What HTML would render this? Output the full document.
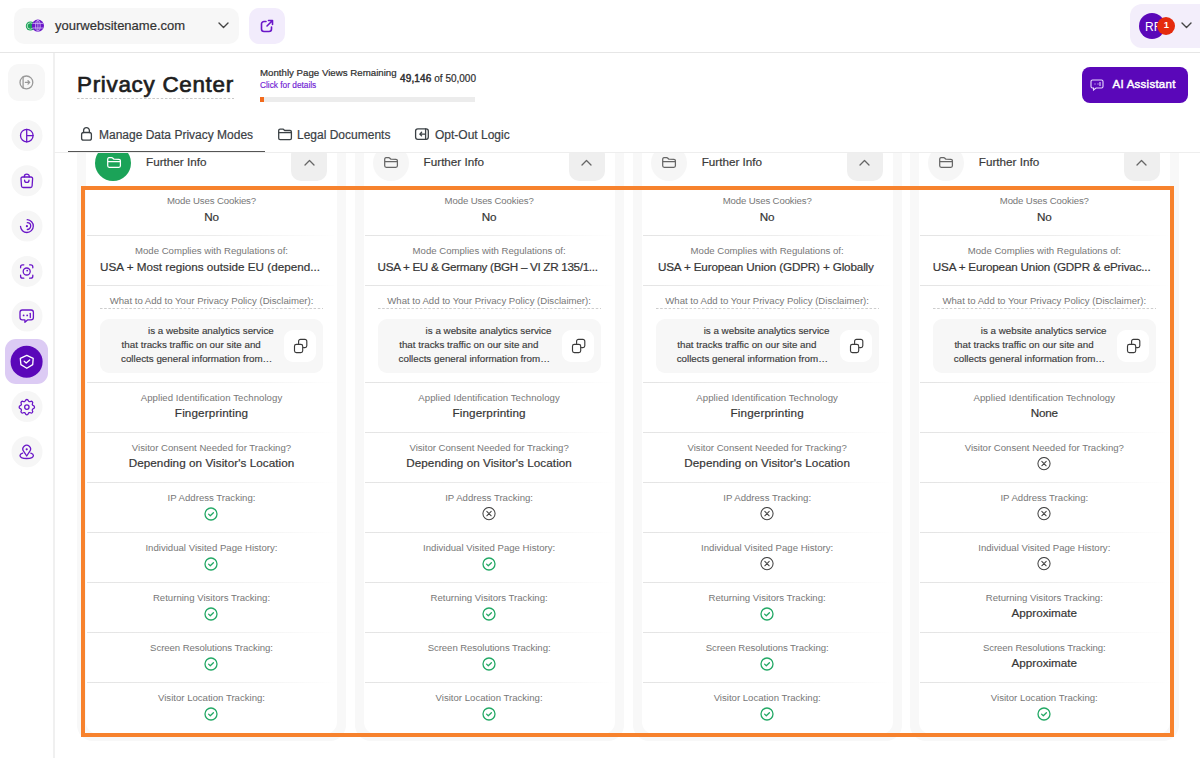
<!DOCTYPE html>
<html><head><meta charset="utf-8">
<style>
*{box-sizing:border-box;margin:0;padding:0}
html,body{width:1200px;height:758px;overflow:hidden;background:#fff;font-family:"Liberation Sans",sans-serif;color:#333}
.abs{position:absolute}
#hdr{position:absolute;left:0;top:0;width:1200px;height:53px;border-bottom:1px solid #e6e6e6;background:#fff}
#site{position:absolute;left:14px;top:8px;width:225px;height:36px;background:#f7f7f7;border-radius:10px}
#site .t{position:absolute;left:41px;top:10px;font-size:13px;color:#333;letter-spacing:0px;white-space:nowrap;-webkit-text-stroke:0.2px #333}
#ext{position:absolute;left:249px;top:8px;width:36px;height:36px;background:#f2ecfc;border-radius:10px}
#user{position:absolute;left:1130px;top:4px;width:90px;height:44px;background:#f3eefb;border-radius:12px}
#side{position:absolute;left:0;top:53px;width:55px;height:705px;border-right:2px solid #f0f0f0;background:#fff}
.sb{position:absolute;left:12px;width:30px;height:30px;border-radius:50%;background:#f6f6f6}
.sb svg{position:absolute;left:8px;top:8px}
#main{position:absolute;left:54px;top:53px;width:1146px;height:705px}
#title{position:absolute;left:77px;top:71.5px;font-size:22.4px;font-weight:normal;-webkit-text-stroke:0.7px #1e1e1e;color:#1e1e1e;white-space:nowrap;letter-spacing:0.72px}
#title:after{content:"";position:absolute;left:0;right:0;top:26.5px;height:1px;background:linear-gradient(90deg,#c9c9c9 55%,rgba(255,255,255,0) 55%) 0 0/4.2px 1px repeat-x}
#pv1{position:absolute;left:260px;top:67px;font-size:9.7px;color:#2e2e2e;white-space:nowrap;-webkit-text-stroke:0.2px #2e2e2e}
#pv2{position:absolute;left:260px;top:80px;font-size:8.3px;color:#7022d4;white-space:nowrap;-webkit-text-stroke:0.15px #7022d4}
#pv3{position:absolute;left:400px;top:73px;font-size:10px;color:#2e2e2e;white-space:nowrap;-webkit-text-stroke:0.2px #2e2e2e}
#pv3 b{font-weight:normal;-webkit-text-stroke:0.45px #2e2e2e;letter-spacing:0.15px}
#bar{position:absolute;left:260px;top:97px;width:215px;height:5px;background:#ececec}
#bar i{position:absolute;left:0;top:0;width:4px;height:5px;background:#f26b1d}
#ai{position:absolute;left:1082px;top:67px;width:106px;height:36px;background:#5a07b9;border-radius:8px;color:#fff}
#ai .t{position:absolute;left:30.5px;top:11px;font-size:11.5px;font-weight:normal;-webkit-text-stroke:0.45px #fff;letter-spacing:0.25px;white-space:nowrap}
.tab{position:absolute;top:127.5px;font-size:12px;color:#3b4145;white-space:nowrap;-webkit-text-stroke:0.2px #3b4145}
#tabline{position:absolute;left:68px;top:151px;width:197px;height:1px;background:#555}
#content{position:absolute;left:54px;top:152px;width:1146px;height:606px;overflow:hidden;border-top:1px solid #eeeeee}
.col{position:absolute;top:-20px;width:269px;height:608px;background:#f8f8f8;border-radius:0 0 16px 16px}
.card{position:absolute;left:9px;top:0;width:251px;height:601px;background:#fff;border-radius:0 0 12px 12px}
.hc{position:absolute;left:9px;top:12px;width:36px;height:36px;border-radius:50%;background:#f6f6f6}
.hc.g{background:#1ba358}
.fi{position:absolute;left:11.5px;top:12px;line-height:0}
.ht{position:absolute;left:60px;top:22px;font-size:11.7px;color:#3a3a3a;white-space:nowrap;-webkit-text-stroke:0.2px #3a3a3a}
.hb{position:absolute;left:205px;top:12px;width:36px;height:36px;border-radius:10px;background:#efefef}
.cu{position:absolute;left:12.5px;top:13.5px;line-height:0}
.row{position:absolute;left:0;width:251px;height:50px;text-align:center}
.row:after{content:"";position:absolute;left:1px;right:0;bottom:0;height:1.5px;background:linear-gradient(90deg,#e4e4e4,#ececec 50%,rgba(255,255,255,0))}
.row.last:after{display:none}
.lb{position:absolute;left:0;right:0;top:9px;font-size:9.6px;color:#777;white-space:nowrap}
.vl{position:absolute;left:0;right:0;top:23px;font-size:11.7px;color:#363636;white-space:nowrap;-webkit-text-stroke:0.2px #363636}
.vl.tr{left:14px;right:auto;text-align:left}
.ic{position:absolute;left:118px;top:24px;line-height:0}
.dl{position:absolute;left:14px;right:14px;top:9px;font-size:9.6px;color:#777;white-space:nowrap;padding-bottom:2px}
.dl:after{content:"";position:absolute;left:0;right:0;bottom:-1px;height:1px;background:linear-gradient(90deg,#cdcdcd 55%,rgba(255,255,255,0) 55%) 0 0/4.2px 1px repeat-x}
.db{position:absolute;left:14px;top:33px;width:223px;height:54px;border-radius:9px;background:#f7f7f7}
.dt{position:absolute;font-size:9.8px;line-height:14px;color:#3a3a3a;white-space:nowrap;-webkit-text-stroke:0.15px #3a3a3a}
.brand{display:inline-block;width:34px}
.cp{position:absolute;left:184px;top:11px;width:32px;height:32px;border-radius:9px;background:#fff}
.cp svg{position:absolute;left:0;top:0}
#orange{position:absolute;left:81px;top:186px;width:1093px;height:551px;border:4px solid #f7822d}
</style></head><body>
<div id="hdr">
  <div id="site">
    <svg class="abs" style="left:10px;top:10px" width="22" height="16" viewBox="0 0 22 16">
      <circle cx="6.4" cy="8" r="4.6" fill="#1ba358"/>
      <circle cx="6.4" cy="8" r="3.2" fill="none" stroke="#d5efdf" stroke-width="0.8"/>
      <circle cx="13.9" cy="7.7" r="6.1" fill="#6a16c8"/>
      <g stroke="#d9c7f7" stroke-width="0.75" fill="none">
        <ellipse cx="13.9" cy="7.7" rx="2.3" ry="5.3"/>
        <path d="M13.9 2.4v10.6M8.6 5.4h10.6M8.6 10h10.6"/>
      </g>
    </svg>
    <div class="t">yourwebsitename.com</div>
    <svg class="abs" style="left:204px;top:14px" width="11" height="7" viewBox="0 0 11 7"><path d="M1 1l4.5 4.5L10 1" stroke="#444" stroke-width="1.4" fill="none" stroke-linecap="round" stroke-linejoin="round"/></svg>
  </div>
  <div id="ext">
    <svg class="abs" style="left:11px;top:11px" width="14" height="14" viewBox="0 0 14 14"><path d="M6 2.5H4A2.5 2.5 0 0 0 1.5 5v5A2.5 2.5 0 0 0 4 12.5h5a2.5 2.5 0 0 0 2.5-2.5V8M7 7l5-5M8.5 1.5H12.5V5.5" stroke="#6a16c8" stroke-width="1.6" fill="none" stroke-linecap="round" stroke-linejoin="round"/></svg>
  </div>
  <div id="user">
    <div class="abs" style="left:9px;top:9px;width:26px;height:26px;border-radius:50%;background:#5a07b9"></div>
    <div class="abs" style="left:15px;top:16px;font-size:12px;color:#fff">RF</div>
    <div class="abs" style="left:27px;top:13px;width:18px;height:18px;border-radius:50%;background:#e52a0d"></div>
    <div class="abs" style="left:27.5px;top:12px;width:18px;height:18px;line-height:18px;text-align:center;font-size:9.5px;font-weight:bold;color:#fff">1</div>
    <svg class="abs" style="left:51px;top:18px" width="11" height="7" viewBox="0 0 11 7"><path d="M1 1l4.5 4.5L10 1" stroke="#444" stroke-width="1.4" fill="none" stroke-linecap="round" stroke-linejoin="round"/></svg>
  </div>
</div>
<div id="side"></div>
<svg class="abs" style="left:0;top:0" width="54" height="758" viewBox="0 0 54 758">
  <rect x="8" y="64" width="37" height="37" rx="11" fill="#f7f7f7"/>
  <g fill="none" stroke="#9a9a9a" stroke-width="1.3" stroke-linecap="round" stroke-linejoin="round">
    <circle cx="26.4" cy="82.4" r="6.4"/>
    <path d="M23.1 76.6v11.6M25.4 82.4h4.3M28 80.7l1.7 1.7-1.7 1.7"/>
  </g>
  <g fill="#f6f6f6">
    <circle cx="27" cy="135.5" r="15.5"/>
    <circle cx="27" cy="180.7" r="15.5"/>
    <circle cx="27" cy="226" r="15.5"/>
    <circle cx="27" cy="271.4" r="15.5"/>
    <circle cx="27" cy="316" r="15.5"/>
    <circle cx="27" cy="406.6" r="15.5"/>
    <circle cx="27" cy="451.8" r="15.5"/>
  </g>
  <rect x="5" y="339" width="43" height="45" rx="11" fill="#dccbf4"/>
  <circle cx="26.6" cy="361.7" r="16" fill="#5a07b9"/>
  <g fill="none" stroke="#6a16c8" stroke-width="1.3" stroke-linecap="round" stroke-linejoin="round">
    <circle cx="26.8" cy="135.6" r="6.3"/>
    <path d="M26.7 129.3v12.6M26.7 135.6h6.3"/>
    <path d="M22.6 177h8.4a1.6 1.6 0 0 1 1.6 1.7l-.5 7.3a1.6 1.6 0 0 1-1.6 1.5h-7.4a1.6 1.6 0 0 1-1.6-1.5l-.5-7.3a1.6 1.6 0 0 1 1.6-1.7z"/>
    <path d="M24.3 176.9v-.3a2.5 2.5 0 0 1 5 0v.3M24.6 180.2a2.2 2.2 0 0 0 4.4 0"/>
    <path d="M27.2 219.7a6.4 6.4 0 1 1-6.7 6.6"/>
    <path d="M27.3 222.7a3.4 3.4 0 0 1 0 6.8"/>
    <path d="M20.6 267.8v-1a2 2 0 0 1 2-2h1.2M29.6 264.8h1.2a2 2 0 0 1 2 2v1M32.8 275.2v1a2 2 0 0 1-2 2h-1.2M23.8 278.2h-1.2a2 2 0 0 1-2-2v-1"/>
    <circle cx="26.7" cy="271.5" r="3.5"/>
    <path d="M22.3 310h8.8a2.3 2.3 0 0 1 2.3 2.3v5.3a2.3 2.3 0 0 1-2.3 2.3h-3.6l-2.6 2.3v-2.3h-2.6a2.3 2.3 0 0 1-2.3-2.3v-5.3a2.3 2.3 0 0 1 2.3-2.3z"/>
    <path d="M30.3 313.3v4.2"/>
    <path d="M25.4 400.6c.4-1.5 2.5-1.5 2.9 0a1.5 1.5 0 0 0 2.2.9c1.3-.8 2.8.7 2 2a1.5 1.5 0 0 0 .9 2.2c1.5.4 1.5 2.5 0 2.9a1.5 1.5 0 0 0-.9 2.2c.8 1.3-.7 2.8-2 2a1.5 1.5 0 0 0-2.2.9c-.4 1.5-2.5 1.5-2.9 0a1.5 1.5 0 0 0-2.2-.9c-1.3.8-2.8-.7-2-2a1.5 1.5 0 0 0-.9-2.2c-1.5-.4-1.5-2.5 0-2.9a1.5 1.5 0 0 0 .9-2.2c-.8-1.3.7-2.8 2-2a1.5 1.5 0 0 0 2.2-.9z"/>
    <circle cx="26.85" cy="407.1" r="2.2"/>
    <path d="M26.7 456l-3-4.6a3.8 3.8 0 1 1 6 0z"/>
    <path d="M22.6 453.2c-1.6.6-2.6 1.4-2.6 2.3 0 1.7 3 3 6.7 3s6.7-1.3 6.7-3c0-.9-1-1.7-2.6-2.3"/>
  </g>
  <g fill="#6a16c8">
    <circle cx="26.9" cy="226.2" r="1.1"/>
    <circle cx="23.6" cy="315.4" r=".9"/>
    <circle cx="27.2" cy="315.4" r=".9"/>
    <circle cx="26.7" cy="449.3" r="1.1"/>
    <circle cx="27.2" cy="270.6" r=".9"/>
  </g>
  <g fill="none" stroke="#fff" stroke-width="1.3" stroke-linecap="round" stroke-linejoin="round">
    <path d="M26.8 355.3l6.4 3.1-.5 6.2-5.9 3.7-5.9-3.7-.6-6.2z"/>
    <path d="M24.2 361.3l2 1.8 3.5-3.2"/>
  </g>
</svg>
<div id="title">Privacy Center</div>
<div id="pv1">Monthly Page Views Remaining</div>
<div id="pv2">Click for details</div>
<div id="pv3"><b>49,146</b> of 50,000</div>
<div id="bar"><i></i></div>
<div id="ai">
  <svg class="abs" style="left:8px;top:12px" width="14" height="12" viewBox="0 0 14 12"><path d="M2.5 1h9A1.5 1.5 0 0 1 13 2.5v5A1.5 1.5 0 0 1 11.5 9H6l-2.5 2V9h-1A1.5 1.5 0 0 1 1 7.5v-5A1.5 1.5 0 0 1 2.5 1z" stroke="#e9dcff" stroke-width="1.1" fill="none"/><path d="M4.5 5h1M7.5 5h1M10 3v4" stroke="#e9dcff" stroke-width="1.1"/></svg>
  <div class="t">AI Assistant</div>
</div>
<div class="tab" style="left:99px">Manage Data Privacy Modes</div>
<div class="tab" style="left:297px">Legal Documents</div>
<div class="tab" style="left:435px">Opt-Out Logic</div>
<div id="tabline"></div>
<svg class="abs" style="left:0;top:0" width="520" height="150" viewBox="0 0 520 150">
  <g fill="none" stroke="#3b4145" stroke-width="1.3" stroke-linecap="round" stroke-linejoin="round">
    <rect x="81.6" y="132.5" width="9.8" height="7.7" rx="2"/>
    <path d="M83.6 132.5v-1.9a2.9 2.9 0 0 1 5.8 0v1.9"/>
    <path d="M278.7 131.2v-.6a1.4 1.4 0 0 1 1.4-1.4h3.2l1.4 1.3h5.3a1.4 1.4 0 0 1 1.4 1.4v6.3a1.4 1.4 0 0 1-1.4 1.4h-9.9a1.4 1.4 0 0 1-1.4-1.4z"/>
    <path d="M278.7 132.6h12.7"/>
    <rect x="415.6" y="128.9" width="12.7" height="10.4" rx="2.2"/>
    <path d="M425.6 129v10.3M424.6 134.1h-4.5M421.6 132.3l-1.8 1.8 1.8 1.8"/>
  </g>
</svg>
<div id="content"><div class="col" style="left:23.00px">
<div class="card">
<div class="hc g"><div class="fi"><svg width="15" height="12" viewBox="0 0 15 12"><path d="M0.7 8.8V2.1A1.5 1.5 0 0 1 2.2 0.6h2.3a1.6 1.6 0 0 1 1.1 .45l.75 .75a1.6 1.6 0 0 0 1.1 .45h4.45a1.5 1.5 0 0 1 1.5 1.5v5.05a1.5 1.5 0 0 1-1.5 1.5H2.2A1.5 1.5 0 0 1 .7 8.8zM.7 4.5h12.7" fill="none" stroke="#fff" stroke-width="1.25" stroke-linejoin="round"/></svg></div></div>
<div class="ht">Further Info</div>
<div class="hb"><div class="cu"><svg width="11" height="7" viewBox="0 0 11 7"><path d="M1 6l4.5-4.5L10 6" stroke="#666" stroke-width="1.3" fill="none" stroke-linecap="round" stroke-linejoin="round"/></svg></div></div>
<div class="row" style="top:53px;height:50px">
<div class="lb" style="letter-spacing:-0.12px;">Mode Uses Cookies?</div>
<div class="vl" style="letter-spacing:-0.2px;top:24px;">No</div>
</div>
<div class="row" style="top:103px;height:50px">
<div class="lb">Mode Complies with Regulations of:</div>
<div class="vl tr" style="top:24px;">USA + Most regions outside EU (depend...</div>
</div>
<div class="row disc" style="top:153px;height:97px">
<div class="dl">What to Add to Your Privacy Policy (Disclaimer):</div>
<div class="db"><div class="dt" style="left:48px;top:5.3px">is a website analytics service</div><div class="dt" style="left:21.6px;top:18.5px">that tracks traffic on our site and</div><div class="dt" style="left:21px;top:32.7px">collects general information from…</div><div class="cp"><svg width="32" height="32" viewBox="0 0 32 32"><rect x="10.5" y="14.4" width="8.2" height="8.2" rx="1.9" fill="none" stroke="#3a3a3a" stroke-width="1.15"/><path d="M14.6 13.6v-2.3a1.9 1.9 0 0 1 1.9-1.9h4.4a1.9 1.9 0 0 1 1.9 1.9v4.4a1.9 1.9 0 0 1-1.9 1.9h-1.4" fill="none" stroke="#3a3a3a" stroke-width="1.15" stroke-linecap="round"/></svg></div></div>
</div>
<div class="row" style="top:250px;height:50px">
<div class="lb" style="letter-spacing:0.06px;">Applied Identification Technology</div>
<div class="vl" style="letter-spacing:0.13px;">Fingerprinting</div>
</div>
<div class="row" style="top:300px;height:50px">
<div class="lb">Visitor Consent Needed for Tracking?</div>
<div class="vl" style="letter-spacing:0.06px;">Depending on Visitor's Location</div>
</div>
<div class="row" style="top:350px;height:50px">
<div class="lb">IP Address Tracking:</div>
<div class="ic"><svg width="14" height="14" viewBox="0 0 14 14"><circle cx="7" cy="7" r="6" fill="none" stroke="#22a865" stroke-width="1.3"/><path d="M4.6 7.1l1.7 1.6 3.1-3" fill="none" stroke="#22a865" stroke-width="1.3" stroke-linecap="round" stroke-linejoin="round"/></svg></div>
</div>
<div class="row" style="top:400px;height:50px">
<div class="lb">Individual Visited Page History:</div>
<div class="ic"><svg width="14" height="14" viewBox="0 0 14 14"><circle cx="7" cy="7" r="6" fill="none" stroke="#22a865" stroke-width="1.3"/><path d="M4.6 7.1l1.7 1.6 3.1-3" fill="none" stroke="#22a865" stroke-width="1.3" stroke-linecap="round" stroke-linejoin="round"/></svg></div>
</div>
<div class="row" style="top:450px;height:50px">
<div class="lb">Returning Visitors Tracking:</div>
<div class="ic"><svg width="14" height="14" viewBox="0 0 14 14"><circle cx="7" cy="7" r="6" fill="none" stroke="#22a865" stroke-width="1.3"/><path d="M4.6 7.1l1.7 1.6 3.1-3" fill="none" stroke="#22a865" stroke-width="1.3" stroke-linecap="round" stroke-linejoin="round"/></svg></div>
</div>
<div class="row" style="top:500px;height:50px">
<div class="lb" style="letter-spacing:-0.07px;">Screen Resolutions Tracking:</div>
<div class="ic"><svg width="14" height="14" viewBox="0 0 14 14"><circle cx="7" cy="7" r="6" fill="none" stroke="#22a865" stroke-width="1.3"/><path d="M4.6 7.1l1.7 1.6 3.1-3" fill="none" stroke="#22a865" stroke-width="1.3" stroke-linecap="round" stroke-linejoin="round"/></svg></div>
</div>
<div class="row last" style="top:550px;height:50px">
<div class="lb">Visitor Location Tracking:</div>
<div class="ic"><svg width="14" height="14" viewBox="0 0 14 14"><circle cx="7" cy="7" r="6" fill="none" stroke="#22a865" stroke-width="1.3"/><path d="M4.6 7.1l1.7 1.6 3.1-3" fill="none" stroke="#22a865" stroke-width="1.3" stroke-linecap="round" stroke-linejoin="round"/></svg></div>
</div>
</div></div>
<div class="col" style="left:300.60px">
<div class="card">
<div class="hc"><div class="fi"><svg width="15" height="12" viewBox="0 0 15 12"><path d="M0.7 8.8V2.1A1.5 1.5 0 0 1 2.2 0.6h2.3a1.6 1.6 0 0 1 1.1 .45l.75 .75a1.6 1.6 0 0 0 1.1 .45h4.45a1.5 1.5 0 0 1 1.5 1.5v5.05a1.5 1.5 0 0 1-1.5 1.5H2.2A1.5 1.5 0 0 1 .7 8.8zM.7 4.5h12.7" fill="none" stroke="#666" stroke-width="1.25" stroke-linejoin="round"/></svg></div></div>
<div class="ht">Further Info</div>
<div class="hb"><div class="cu"><svg width="11" height="7" viewBox="0 0 11 7"><path d="M1 6l4.5-4.5L10 6" stroke="#666" stroke-width="1.3" fill="none" stroke-linecap="round" stroke-linejoin="round"/></svg></div></div>
<div class="row" style="top:53px;height:50px">
<div class="lb" style="letter-spacing:-0.12px;">Mode Uses Cookies?</div>
<div class="vl" style="letter-spacing:-0.2px;top:24px;">No</div>
</div>
<div class="row" style="top:103px;height:50px">
<div class="lb">Mode Complies with Regulations of:</div>
<div class="vl tr" style="letter-spacing:-0.32px;top:24px;">USA + EU & Germany (BGH – VI ZR 135/1...</div>
</div>
<div class="row disc" style="top:153px;height:97px">
<div class="dl">What to Add to Your Privacy Policy (Disclaimer):</div>
<div class="db"><div class="dt" style="left:48px;top:5.3px">is a website analytics service</div><div class="dt" style="left:21.6px;top:18.5px">that tracks traffic on our site and</div><div class="dt" style="left:21px;top:32.7px">collects general information from…</div><div class="cp"><svg width="32" height="32" viewBox="0 0 32 32"><rect x="10.5" y="14.4" width="8.2" height="8.2" rx="1.9" fill="none" stroke="#3a3a3a" stroke-width="1.15"/><path d="M14.6 13.6v-2.3a1.9 1.9 0 0 1 1.9-1.9h4.4a1.9 1.9 0 0 1 1.9 1.9v4.4a1.9 1.9 0 0 1-1.9 1.9h-1.4" fill="none" stroke="#3a3a3a" stroke-width="1.15" stroke-linecap="round"/></svg></div></div>
</div>
<div class="row" style="top:250px;height:50px">
<div class="lb" style="letter-spacing:0.06px;">Applied Identification Technology</div>
<div class="vl" style="letter-spacing:0.13px;">Fingerprinting</div>
</div>
<div class="row" style="top:300px;height:50px">
<div class="lb">Visitor Consent Needed for Tracking?</div>
<div class="vl" style="letter-spacing:0.06px;">Depending on Visitor's Location</div>
</div>
<div class="row" style="top:350px;height:50px">
<div class="lb">IP Address Tracking:</div>
<div class="ic"><svg width="14" height="14" viewBox="0 0 14 14"><circle cx="7" cy="6.6" r="6.1" fill="none" stroke="#444" stroke-width="1.05"/><path d="M4.8 4.4l4.4 4.4M9.2 4.4l-4.4 4.4" fill="none" stroke="#444" stroke-width="1.05" stroke-linecap="round"/></svg></div>
</div>
<div class="row" style="top:400px;height:50px">
<div class="lb">Individual Visited Page History:</div>
<div class="ic"><svg width="14" height="14" viewBox="0 0 14 14"><circle cx="7" cy="7" r="6" fill="none" stroke="#22a865" stroke-width="1.3"/><path d="M4.6 7.1l1.7 1.6 3.1-3" fill="none" stroke="#22a865" stroke-width="1.3" stroke-linecap="round" stroke-linejoin="round"/></svg></div>
</div>
<div class="row" style="top:450px;height:50px">
<div class="lb">Returning Visitors Tracking:</div>
<div class="ic"><svg width="14" height="14" viewBox="0 0 14 14"><circle cx="7" cy="7" r="6" fill="none" stroke="#22a865" stroke-width="1.3"/><path d="M4.6 7.1l1.7 1.6 3.1-3" fill="none" stroke="#22a865" stroke-width="1.3" stroke-linecap="round" stroke-linejoin="round"/></svg></div>
</div>
<div class="row" style="top:500px;height:50px">
<div class="lb" style="letter-spacing:-0.07px;">Screen Resolutions Tracking:</div>
<div class="ic"><svg width="14" height="14" viewBox="0 0 14 14"><circle cx="7" cy="7" r="6" fill="none" stroke="#22a865" stroke-width="1.3"/><path d="M4.6 7.1l1.7 1.6 3.1-3" fill="none" stroke="#22a865" stroke-width="1.3" stroke-linecap="round" stroke-linejoin="round"/></svg></div>
</div>
<div class="row last" style="top:550px;height:50px">
<div class="lb">Visitor Location Tracking:</div>
<div class="ic"><svg width="14" height="14" viewBox="0 0 14 14"><circle cx="7" cy="7" r="6" fill="none" stroke="#22a865" stroke-width="1.3"/><path d="M4.6 7.1l1.7 1.6 3.1-3" fill="none" stroke="#22a865" stroke-width="1.3" stroke-linecap="round" stroke-linejoin="round"/></svg></div>
</div>
</div></div>
<div class="col" style="left:578.65px">
<div class="card">
<div class="hc"><div class="fi"><svg width="15" height="12" viewBox="0 0 15 12"><path d="M0.7 8.8V2.1A1.5 1.5 0 0 1 2.2 0.6h2.3a1.6 1.6 0 0 1 1.1 .45l.75 .75a1.6 1.6 0 0 0 1.1 .45h4.45a1.5 1.5 0 0 1 1.5 1.5v5.05a1.5 1.5 0 0 1-1.5 1.5H2.2A1.5 1.5 0 0 1 .7 8.8zM.7 4.5h12.7" fill="none" stroke="#666" stroke-width="1.25" stroke-linejoin="round"/></svg></div></div>
<div class="ht">Further Info</div>
<div class="hb"><div class="cu"><svg width="11" height="7" viewBox="0 0 11 7"><path d="M1 6l4.5-4.5L10 6" stroke="#666" stroke-width="1.3" fill="none" stroke-linecap="round" stroke-linejoin="round"/></svg></div></div>
<div class="row" style="top:53px;height:50px">
<div class="lb" style="letter-spacing:-0.12px;">Mode Uses Cookies?</div>
<div class="vl" style="letter-spacing:-0.2px;top:24px;">No</div>
</div>
<div class="row" style="top:103px;height:50px">
<div class="lb">Mode Complies with Regulations of:</div>
<div class="vl" style="letter-spacing:-0.15px;top:24px;left:-2.6px;">USA + European Union (GDPR) + Globally</div>
</div>
<div class="row disc" style="top:153px;height:97px">
<div class="dl">What to Add to Your Privacy Policy (Disclaimer):</div>
<div class="db"><div class="dt" style="left:48px;top:5.3px">is a website analytics service</div><div class="dt" style="left:21.6px;top:18.5px">that tracks traffic on our site and</div><div class="dt" style="left:21px;top:32.7px">collects general information from…</div><div class="cp"><svg width="32" height="32" viewBox="0 0 32 32"><rect x="10.5" y="14.4" width="8.2" height="8.2" rx="1.9" fill="none" stroke="#3a3a3a" stroke-width="1.15"/><path d="M14.6 13.6v-2.3a1.9 1.9 0 0 1 1.9-1.9h4.4a1.9 1.9 0 0 1 1.9 1.9v4.4a1.9 1.9 0 0 1-1.9 1.9h-1.4" fill="none" stroke="#3a3a3a" stroke-width="1.15" stroke-linecap="round"/></svg></div></div>
</div>
<div class="row" style="top:250px;height:50px">
<div class="lb" style="letter-spacing:0.06px;">Applied Identification Technology</div>
<div class="vl" style="letter-spacing:0.13px;">Fingerprinting</div>
</div>
<div class="row" style="top:300px;height:50px">
<div class="lb">Visitor Consent Needed for Tracking?</div>
<div class="vl" style="letter-spacing:0.06px;">Depending on Visitor's Location</div>
</div>
<div class="row" style="top:350px;height:50px">
<div class="lb">IP Address Tracking:</div>
<div class="ic"><svg width="14" height="14" viewBox="0 0 14 14"><circle cx="7" cy="6.6" r="6.1" fill="none" stroke="#444" stroke-width="1.05"/><path d="M4.8 4.4l4.4 4.4M9.2 4.4l-4.4 4.4" fill="none" stroke="#444" stroke-width="1.05" stroke-linecap="round"/></svg></div>
</div>
<div class="row" style="top:400px;height:50px">
<div class="lb">Individual Visited Page History:</div>
<div class="ic"><svg width="14" height="14" viewBox="0 0 14 14"><circle cx="7" cy="6.6" r="6.1" fill="none" stroke="#444" stroke-width="1.05"/><path d="M4.8 4.4l4.4 4.4M9.2 4.4l-4.4 4.4" fill="none" stroke="#444" stroke-width="1.05" stroke-linecap="round"/></svg></div>
</div>
<div class="row" style="top:450px;height:50px">
<div class="lb">Returning Visitors Tracking:</div>
<div class="ic"><svg width="14" height="14" viewBox="0 0 14 14"><circle cx="7" cy="7" r="6" fill="none" stroke="#22a865" stroke-width="1.3"/><path d="M4.6 7.1l1.7 1.6 3.1-3" fill="none" stroke="#22a865" stroke-width="1.3" stroke-linecap="round" stroke-linejoin="round"/></svg></div>
</div>
<div class="row" style="top:500px;height:50px">
<div class="lb" style="letter-spacing:-0.07px;">Screen Resolutions Tracking:</div>
<div class="ic"><svg width="14" height="14" viewBox="0 0 14 14"><circle cx="7" cy="7" r="6" fill="none" stroke="#22a865" stroke-width="1.3"/><path d="M4.6 7.1l1.7 1.6 3.1-3" fill="none" stroke="#22a865" stroke-width="1.3" stroke-linecap="round" stroke-linejoin="round"/></svg></div>
</div>
<div class="row last" style="top:550px;height:50px">
<div class="lb">Visitor Location Tracking:</div>
<div class="ic"><svg width="14" height="14" viewBox="0 0 14 14"><circle cx="7" cy="7" r="6" fill="none" stroke="#22a865" stroke-width="1.3"/><path d="M4.6 7.1l1.7 1.6 3.1-3" fill="none" stroke="#22a865" stroke-width="1.3" stroke-linecap="round" stroke-linejoin="round"/></svg></div>
</div>
</div></div>
<div class="col" style="left:855.80px">
<div class="card">
<div class="hc"><div class="fi"><svg width="15" height="12" viewBox="0 0 15 12"><path d="M0.7 8.8V2.1A1.5 1.5 0 0 1 2.2 0.6h2.3a1.6 1.6 0 0 1 1.1 .45l.75 .75a1.6 1.6 0 0 0 1.1 .45h4.45a1.5 1.5 0 0 1 1.5 1.5v5.05a1.5 1.5 0 0 1-1.5 1.5H2.2A1.5 1.5 0 0 1 .7 8.8zM.7 4.5h12.7" fill="none" stroke="#666" stroke-width="1.25" stroke-linejoin="round"/></svg></div></div>
<div class="ht">Further Info</div>
<div class="hb"><div class="cu"><svg width="11" height="7" viewBox="0 0 11 7"><path d="M1 6l4.5-4.5L10 6" stroke="#666" stroke-width="1.3" fill="none" stroke-linecap="round" stroke-linejoin="round"/></svg></div></div>
<div class="row" style="top:53px;height:50px">
<div class="lb" style="letter-spacing:-0.12px;">Mode Uses Cookies?</div>
<div class="vl" style="letter-spacing:-0.2px;top:24px;">No</div>
</div>
<div class="row" style="top:103px;height:50px">
<div class="lb">Mode Complies with Regulations of:</div>
<div class="vl tr" style="letter-spacing:-0.19px;top:24px;">USA + European Union (GDPR & ePrivac...</div>
</div>
<div class="row disc" style="top:153px;height:97px">
<div class="dl">What to Add to Your Privacy Policy (Disclaimer):</div>
<div class="db"><div class="dt" style="left:48px;top:5.3px">is a website analytics service</div><div class="dt" style="left:21.6px;top:18.5px">that tracks traffic on our site and</div><div class="dt" style="left:21px;top:32.7px">collects general information from…</div><div class="cp"><svg width="32" height="32" viewBox="0 0 32 32"><rect x="10.5" y="14.4" width="8.2" height="8.2" rx="1.9" fill="none" stroke="#3a3a3a" stroke-width="1.15"/><path d="M14.6 13.6v-2.3a1.9 1.9 0 0 1 1.9-1.9h4.4a1.9 1.9 0 0 1 1.9 1.9v4.4a1.9 1.9 0 0 1-1.9 1.9h-1.4" fill="none" stroke="#3a3a3a" stroke-width="1.15" stroke-linecap="round"/></svg></div></div>
</div>
<div class="row" style="top:250px;height:50px">
<div class="lb" style="letter-spacing:0.06px;">Applied Identification Technology</div>
<div class="vl" style="letter-spacing:-0.15px;">None</div>
</div>
<div class="row" style="top:300px;height:50px">
<div class="lb">Visitor Consent Needed for Tracking?</div>
<div class="ic"><svg width="14" height="14" viewBox="0 0 14 14"><circle cx="7" cy="6.6" r="6.1" fill="none" stroke="#444" stroke-width="1.05"/><path d="M4.8 4.4l4.4 4.4M9.2 4.4l-4.4 4.4" fill="none" stroke="#444" stroke-width="1.05" stroke-linecap="round"/></svg></div>
</div>
<div class="row" style="top:350px;height:50px">
<div class="lb">IP Address Tracking:</div>
<div class="ic"><svg width="14" height="14" viewBox="0 0 14 14"><circle cx="7" cy="6.6" r="6.1" fill="none" stroke="#444" stroke-width="1.05"/><path d="M4.8 4.4l4.4 4.4M9.2 4.4l-4.4 4.4" fill="none" stroke="#444" stroke-width="1.05" stroke-linecap="round"/></svg></div>
</div>
<div class="row" style="top:400px;height:50px">
<div class="lb">Individual Visited Page History:</div>
<div class="ic"><svg width="14" height="14" viewBox="0 0 14 14"><circle cx="7" cy="6.6" r="6.1" fill="none" stroke="#444" stroke-width="1.05"/><path d="M4.8 4.4l4.4 4.4M9.2 4.4l-4.4 4.4" fill="none" stroke="#444" stroke-width="1.05" stroke-linecap="round"/></svg></div>
</div>
<div class="row" style="top:450px;height:50px">
<div class="lb">Returning Visitors Tracking:</div>
<div class="vl">Approximate</div>
</div>
<div class="row" style="top:500px;height:50px">
<div class="lb" style="letter-spacing:-0.07px;">Screen Resolutions Tracking:</div>
<div class="vl">Approximate</div>
</div>
<div class="row last" style="top:550px;height:50px">
<div class="lb">Visitor Location Tracking:</div>
<div class="ic"><svg width="14" height="14" viewBox="0 0 14 14"><circle cx="7" cy="7" r="6" fill="none" stroke="#22a865" stroke-width="1.3"/><path d="M4.6 7.1l1.7 1.6 3.1-3" fill="none" stroke="#22a865" stroke-width="1.3" stroke-linecap="round" stroke-linejoin="round"/></svg></div>
</div>
</div></div></div>
<div id="orange"></div>
</body></html>
